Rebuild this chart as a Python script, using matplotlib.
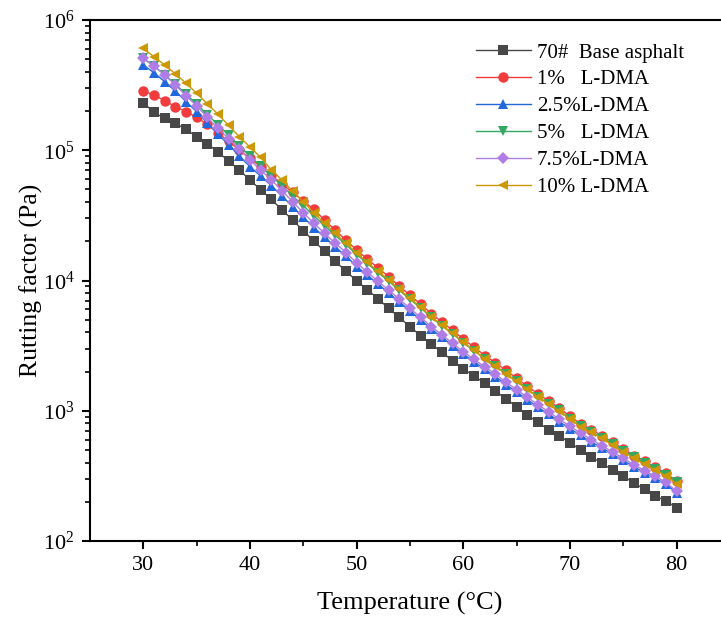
import matplotlib
matplotlib.use("Agg")
import matplotlib.pyplot as plt
from matplotlib.ticker import LogLocator, FixedLocator, NullFormatter

plt.rcParams["font.family"] = ["Liberation Serif", "DejaVu Serif"]
plt.rcParams["mathtext.fontset"] = "stix"

temperature = list(range(30, 81))

base_asphalt = [
    231700, 195400, 175800, 161100, 144500, 127100, 112200, 97000, 82600, 70300,
    59200, 49700, 42000, 34800, 29100, 24100, 20000, 16800, 14000, 11800,
    9950, 8510, 7240, 6110, 5210, 4420, 3770, 3250, 2810, 2420,
    2100, 1850, 1630, 1410, 1240, 1070, 927, 815, 714, 640,
    569, 500, 444, 394, 351, 314, 279, 249, 221, 203, 180,
]
ldma_1 = [
    285000, 265000, 240000, 216000, 198000, 179000, 158000, 136000, 117000, 101000,
    86700, 74500, 64100, 55100, 47400, 40700, 35100, 29000, 24300, 20400,
    17100, 14600, 12500, 10700, 9040, 7710, 6580, 5570, 4790, 4150,
    3540, 3090, 2650, 2340, 2040, 1780, 1540, 1350, 1190, 1050,
    906, 794, 716, 644, 573, 509, 453, 409, 368, 331, 288,
]
ldma_2_5 = [
    451000, 394000, 336000, 285000, 236000, 198000, 161000, 133000, 110000, 90400,
    74800, 63400, 53500, 44500, 36900, 30500, 25500, 21400, 18100, 15400,
    12800, 11000, 9380, 8050, 6850, 5850, 4990, 4240, 3660, 3160,
    2720, 2380, 2090, 1830, 1590, 1390, 1220, 1060, 944, 824,
    728, 647, 575, 520, 462, 415, 371, 334, 303, 272, 234,
]
ldma_5 = [
    507000, 442000, 380000, 322000, 270000, 226000, 188000, 157000, 130000, 108000,
    90200, 75500, 63100, 53500, 44500, 37600, 31300, 26300, 22200, 18800,
    15800, 13500, 11500, 9890, 8390, 7180, 6140, 5210, 4490, 3890,
    3330, 2900, 2500, 2200, 1920, 1680, 1460, 1280, 1130, 1005,
    867, 762, 689, 622, 555, 494, 441, 398, 359, 324, 283,
]
ldma_7_5 = [
    508000, 444000, 378000, 317000, 263000, 218000, 179000, 147000, 123000, 102000,
    84100, 70500, 59200, 48900, 40300, 33100, 27500, 23000, 19300, 16400,
    13600, 11600, 9860, 8450, 7180, 6110, 5210, 4420, 3820, 3300,
    2840, 2480, 2180, 1910, 1660, 1450, 1270, 1110, 984, 859,
    759, 675, 600, 541, 481, 432, 385, 347, 314, 282, 240,
]
ldma_10 = [
    605000, 522000, 452000, 387000, 327000, 274000, 228000, 189000, 155000, 127000,
    106000, 88100, 70800, 59200, 48400, 40300, 33000, 27500, 23000, 19300,
    16200, 13800, 11800, 10100, 8550, 7290, 6220, 5270, 4530, 3930,
    3350, 2920, 2510, 2210, 1930, 1690, 1460, 1280, 1130, 1000,
    861, 755, 681, 614, 546, 485, 432, 390, 351, 316, 275,
]

series = [
    ("70#  Base asphalt", base_asphalt, "#474747", "s"),
    ("1%   L-DMA", ldma_1, "#f03c3c", "o"),
    ("2.5%L-DMA", ldma_2_5, "#2168dc", "^"),
    ("5%   L-DMA", ldma_5, "#33a862", "v"),
    ("7.5%L-DMA", ldma_7_5, "#b07ce6", "D"),
    ("10% L-DMA", ldma_10, "#cc9804", "<"),
]

fig = plt.figure(figsize=(7.21, 6.19), dpi=100)
ax = fig.add_axes([90 / 721, 1 - 541 / 619, 640 / 721, 521 / 619])

for label, values, color, marker in series:
    ms = 6.6 if marker == "D" else 7.5
    ax.plot(temperature, values, color=color, marker=marker, markersize=ms,
            linewidth=1.0, markeredgewidth=0, label=label)

ax.set_yscale("log")
ax.set_xlim(25, 85)
ax.set_ylim(1e2, 1e6)

ax.xaxis.set_major_locator(FixedLocator([30, 40, 50, 60, 70, 80]))
ax.xaxis.set_minor_locator(FixedLocator([35, 45, 55, 65, 75]))
ax.yaxis.set_major_locator(LogLocator(base=10, numticks=10))
ax.yaxis.set_minor_locator(LogLocator(base=10, subs=range(2, 10), numticks=10))
ax.yaxis.set_minor_formatter(NullFormatter())

ax.tick_params(axis="both", which="major", direction="out", length=6, width=1.5,
               labelsize=16, top=False, right=False, pad=5)
ax.tick_params(axis="both", which="minor", direction="out", length=3.5, width=1.2,
               top=False, right=False)
for side in ["left", "bottom", "top", "right"]:
    ax.spines[side].set_linewidth(1.5)

ax.set_xlabel("Temperature (\u00b0C)", fontsize=19, labelpad=12)
ax.set_ylabel("Rutting factor (Pa)", fontsize=18.5, labelpad=0)

leg = ax.legend(loc="upper left", bbox_to_anchor=(378 / 640, 0.972), frameon=False,
                fontsize=15, handlelength=2.6, labelspacing=0.35,
                handletextpad=0.3, borderaxespad=0)

fig.savefig("out.png", dpi=100)
